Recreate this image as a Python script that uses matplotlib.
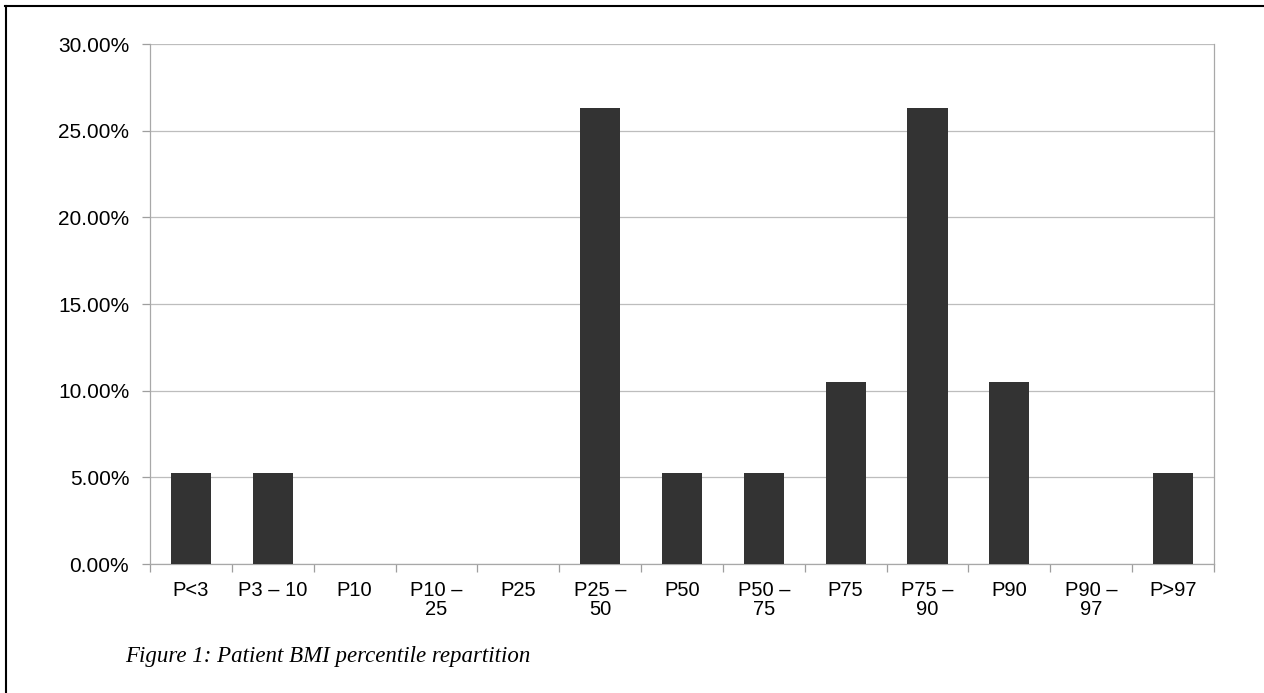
import matplotlib
matplotlib.use("Agg")
import matplotlib.pyplot as plt
from matplotlib.lines import Line2D
from matplotlib.ticker import FuncFormatter, MultipleLocator

categories = [
    "P<3", "P3 \u2013 10", "P10", "P10 \u2013\n25", "P25", "P25 \u2013\n50", "P50",
    "P50 \u2013\n75", "P75", "P75 \u2013\n90", "P90", "P90 \u2013\n97", "P>97",
]
share_pct = [5.26, 5.26, 0.0, 0.0, 0.0, 26.32, 5.26, 5.26, 10.53, 26.32, 10.53, 0.0, 5.26]
caption = "Figure 1: Patient BMI percentile repartition"

plt.rcParams["font.family"] = ["Liberation Sans", "DejaVu Sans"]

fig = plt.figure(figsize=(12.64, 6.93), dpi=100)
ax = fig.add_axes([0.1187, 0.1861, 0.8417, 0.7504])

xs = list(range(len(categories)))
ax.bar(xs, share_pct, width=0.49, color="#333333", zorder=3)

ax.set_xlim(-0.5, len(categories) - 0.5)
ax.set_ylim(0, 30)
ax.yaxis.set_major_locator(MultipleLocator(5))
ax.yaxis.set_major_formatter(FuncFormatter(lambda v, _: f"{v:.2f}%"))
ax.grid(axis="y", color="#bdbdbd", linewidth=0.9, zorder=0)

ax.set_xticks(xs)
ax.set_xticklabels(categories, fontsize=14.5, linespacing=1.05)
ax.set_xticks([x + 0.5 for x in xs[:-1]] + [-0.5, len(categories) - 0.5], minor=True)
ax.tick_params(axis="x", which="major", length=0, pad=12)
ax.tick_params(axis="x", which="minor", length=6, color="#9e9e9e", width=0.9)
ax.tick_params(axis="y", length=6, color="#9e9e9e", width=0.9, labelsize=15, pad=9)

for side in ["top", "right", "left", "bottom"]:
    ax.spines[side].set_color("#a8a8a8")
    ax.spines[side].set_linewidth(0.9)
ax.spines["top"].set_visible(False)

fig.text(0.099, 0.053, caption, fontsize=16.5, style="italic",
         family=["Liberation Serif", "DejaVu Serif"], ha="left", va="center")

# page frame (top and left edges only)
fig.add_artist(Line2D([0.004, 1.0], [0.991, 0.991], color="black", linewidth=1.5,
                      transform=fig.transFigure))
fig.add_artist(Line2D([0.005, 0.005], [0.0, 0.991], color="black", linewidth=1.5,
                      transform=fig.transFigure))

fig.savefig("out.png", dpi=100)
